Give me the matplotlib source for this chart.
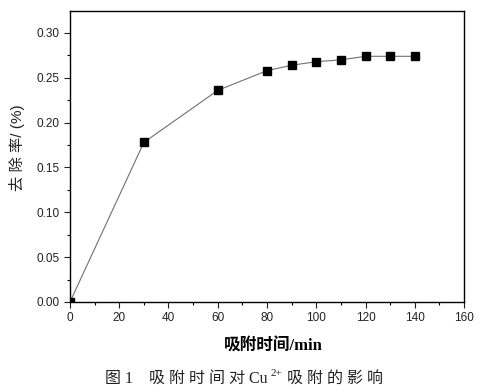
import matplotlib
matplotlib.use("Agg")
from matplotlib import pyplot as plt
from matplotlib.ticker import MultipleLocator

# adsorption time (min) vs removal rate
time_min = [0, 30, 60, 80, 90, 100, 110, 120, 130, 140]
removal = [0.000, 0.178, 0.236, 0.258, 0.264, 0.268, 0.270, 0.274, 0.274, 0.274]

x_ticks = [0, 20, 40, 60, 80, 100, 120, 140, 160]
y_ticks = [0.00, 0.05, 0.10, 0.15, 0.20, 0.25, 0.30]

plt.rcParams['font.family'] = ['Liberation Sans', 'Noto Sans CJK SC']
serif = ['Liberation Serif', 'Noto Sans CJK SC']

fig = plt.figure(figsize=(4.84, 3.92), dpi=100)
ax = fig.add_axes([0.1446, 0.2296, 0.8141, 0.7423])

ax.plot(time_min, removal, "-", color="#707070", lw=0.8)
ax.plot(time_min, removal, "s", color="black", ms=6)

ax.set_xlim(0, 160)
ax.set_ylim(0, 0.3245)
ax.set_xticks(x_ticks)
ax.set_yticks(y_ticks)
ax.set_yticklabels(["{:.2f}".format(v) for v in y_ticks])
ax.xaxis.set_minor_locator(MultipleLocator(10))
ax.yaxis.set_minor_locator(MultipleLocator(0.025))
ax.tick_params(which="major", direction="out", length=4, width=0.8, labelsize=8.5, colors="#222222")
ax.tick_params(which="minor", direction="out", length=2.5, width=0.8)
for s in ax.spines.values():
	s.set_linewidth(1.0)

ax.set_xlabel("吸附时间/min", fontsize=12, fontweight="bold", family=serif)
ax.xaxis.set_label_coords(0.515, -0.125)
ax.set_ylabel("去 除 率/ (%)", fontsize=11, color="#222222")
ax.yaxis.set_label_coords(-0.114, 0.53)

# caption, built in pieces so the superscript does not break the CJK fallback
t1 = fig.text(0.217, 0.012, "图 1    吸 附 时 间 对 Cu", ha="left", va="bottom",
			  fontsize=11.5, family=serif, color="#222222")
t2 = ax.annotate("2+", xy=(1, 0.6), xycoords=t1, xytext=(2, 0), textcoords="offset points",
				 ha="left", va="bottom", fontsize=8, family=serif, color="#222222",
				 annotation_clip=False)
t3 = ax.annotate("吸 附 的 影 响", xy=(1, 0), xycoords=t1, xytext=(14, 0), textcoords="offset points",
				 ha="left", va="bottom", fontsize=11.5, family=serif, color="#222222",
				 annotation_clip=False)

fig.savefig("out.png", dpi=100)
